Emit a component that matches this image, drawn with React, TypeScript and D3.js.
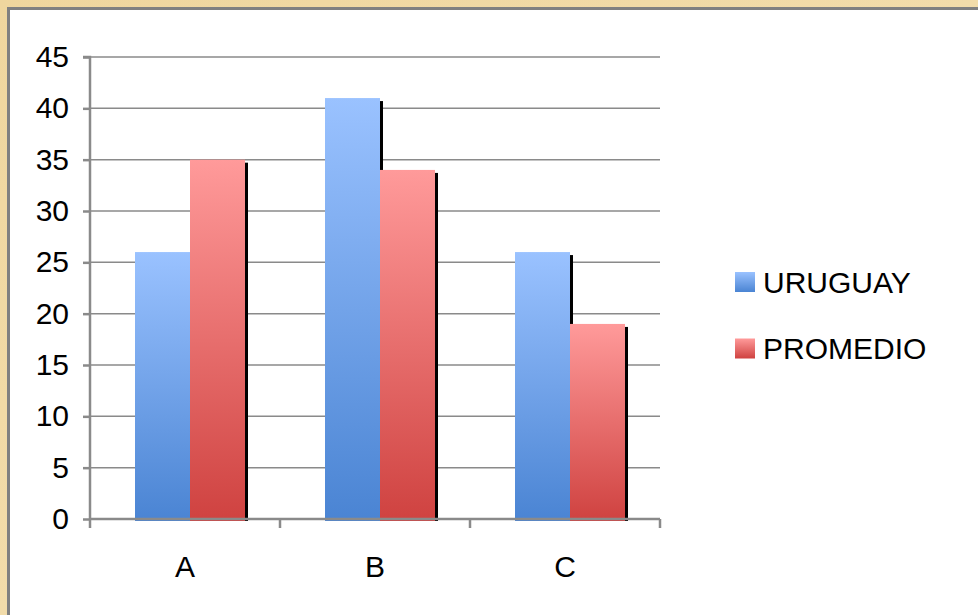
import React, { useEffect, useRef } from "react"
import * as d3 from "d3"

const categories = ["A", "B", "C"]
const seriesNames = ["URUGUAY", "PROMEDIO"]
const uruguay = [26, 41, 26]
const promedio = [35, 34, 19]
const yTicks = [0, 5, 10, 15, 20, 25, 30, 35, 40, 45]

const W = 978
const H = 615
const FONT = "'Liberation Sans', Arial, sans-serif"

export default function App() {
    const ref = useRef<SVGGElement>(null)

    useEffect(() => {
        if (!ref.current) return
        const g = d3.select(ref.current)
        g.selectAll("*").remove()

        const left = 90, right = 660, top = 57, bottom = 519

        const x = d3.scaleBand<string>()
            .domain(categories)
            .range([left, right])

        const y = d3.scaleLinear()
            .domain([0, 45])
            .range([bottom, top])

        const inner = d3.scaleBand<string>()
            .domain(seriesNames)
            .range([0, 110])

        const defs = g.append("defs")
        const grads = [
            { id: "gBlue", top: "#9ac2ff", bottom: "#4a84d3" },
            { id: "gRed", top: "#ff9a9a", bottom: "#cf4240" },
        ]
        grads.forEach(gr => {
            const lg = defs.append("linearGradient")
                .attr("id", gr.id)
                .attr("x1", 0).attr("y1", 0).attr("x2", 0).attr("y2", 1)
            lg.append("stop").attr("offset", "0%").attr("stop-color", gr.top)
            lg.append("stop").attr("offset", "100%").attr("stop-color", gr.bottom)
        })

        // grid lines
        g.append("g")
            .selectAll("line")
            .data(yTicks.filter(t => t > 0))
            .join("line")
            .attr("x1", left).attr("x2", right)
            .attr("y1", d => y(d)).attr("y2", d => y(d))
            .attr("stroke", "#8a8a8a")
            .attr("stroke-width", 1.5)

        const rows = categories.map((c, i) => ({ c, vals: [uruguay[i], promedio[i]] }))

        rows.forEach(row => {
            const x0 = (x(row.c) as number) + (x.bandwidth() - 110) / 2 + 5
            row.vals.forEach((v, j) => {
                const bx = x0 + (inner(seriesNames[j]) as number)
                const bw = inner.bandwidth()
                // shadow
                g.append("rect")
                    .attr("x", bx + bw - 1)
                    .attr("y", y(v) + 3)
                    .attr("width", 4)
                    .attr("height", y(0) - y(v) - 1)
                    .attr("fill", "#000")
            })
            row.vals.forEach((v, j) => {
                const bx = x0 + (inner(seriesNames[j]) as number)
                g.append("rect")
                    .attr("x", bx)
                    .attr("y", y(v))
                    .attr("width", inner.bandwidth())
                    .attr("height", y(0) - y(v) + 2)
                    .attr("fill", j === 0 ? "url(#gBlue)" : "url(#gRed)")
            })
        })

        // axes
        const yAxis = d3.axisLeft(y).tickValues(yTicks).tickSize(7).tickPadding(14)
        const ya = g.append("g").attr("transform", `translate(${left},0)`).call(yAxis)
        ya.select(".domain").attr("stroke", "#8a8a8a").attr("stroke-width", 2.5)
            .attr("d", `M-7,${top}H0V${bottom}`)
        ya.selectAll(".tick line").attr("stroke", "#8a8a8a").attr("stroke-width", 2.5)
        ya.selectAll(".tick text")
            .attr("font-size", 30)
            .attr("font-family", FONT)
            .attr("fill", "#000")

        const xAxis = d3.axisBottom(x).tickSize(0).tickPadding(37)
        const xa = g.append("g").attr("transform", `translate(0,${bottom})`).call(xAxis)
        xa.select(".domain").attr("stroke", "#8a8a8a").attr("stroke-width", 2.5)
            .attr("d", `M${left},0H${right}`)
        xa.selectAll(".tick text")
            .attr("font-size", 30)
            .attr("font-family", FONT)
            .attr("fill", "#000")

        // category separators
        g.append("g")
            .selectAll("line")
            .data([...categories.map(c => x(c) as number), right])
            .join("line")
            .attr("x1", d => d).attr("x2", d => d)
            .attr("y1", bottom).attr("y2", bottom + 9)
            .attr("stroke", "#8a8a8a")
            .attr("stroke-width", 2.5)

        // legend
        const lg = g.append("g").attr("transform", "translate(735,272)")
        seriesNames.forEach((s, i) => {
            const item = lg.append("g").attr("transform", `translate(0,${i * 66.5})`)
            item.append("rect")
                .attr("width", 20).attr("height", 20)
                .attr("fill", i === 0 ? "url(#gBlue)" : "url(#gRed)")
            item.append("text")
                .attr("x", 28).attr("y", 10)
                .attr("dy", "0.35em")
                .attr("font-size", 30)
                .attr("font-family", FONT)
                .attr("fill", "#000")
                .text(s)
        })
    }, [])

    return (
        <svg width={W} height={H} style={{ position: "absolute", left: 0, top: 0 }}>
            <defs>
                <linearGradient id="parch" x1="0" y1="0" x2="1" y2="1">
                    <stop offset="0%" stopColor="#efd69e" />
                    <stop offset="50%" stopColor="#f2dcaa" />
                    <stop offset="100%" stopColor="#e8ca8c" />
                </linearGradient>
            </defs>
            <rect width={W} height={H} fill="url(#parch)" />
            <rect x={8.5} y={8.5} width={W} height={H} fill="#fff" stroke="#808080" strokeWidth={3} />
            <g ref={ref} />
        </svg>
    )
}
